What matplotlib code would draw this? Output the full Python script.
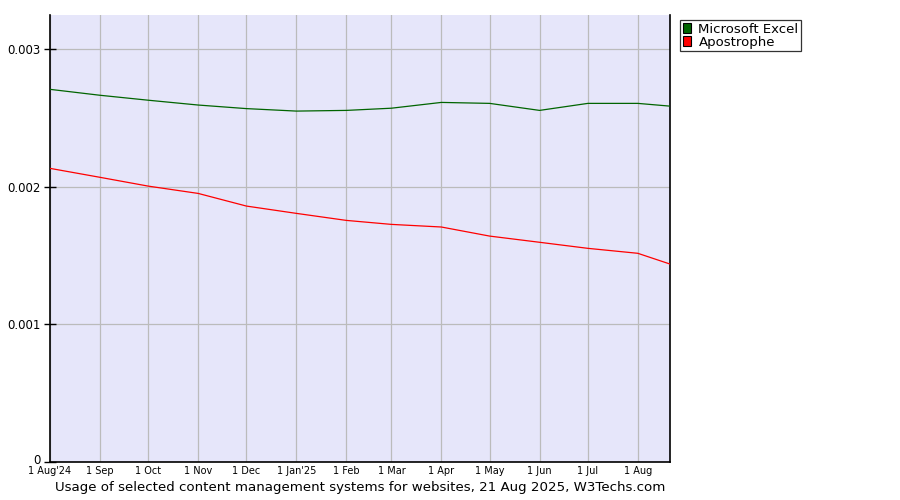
import datetime as dt
import matplotlib
matplotlib.use("Agg")
import matplotlib.pyplot as plt
import matplotlib.dates as mdates
import matplotlib.transforms as mtransforms
from matplotlib.patches import Patch

# monthly samples, plus the last day
dates = [dt.date(2024, 8, 1), dt.date(2024, 9, 1), dt.date(2024, 10, 1), dt.date(2024, 11, 1),
         dt.date(2024, 12, 1), dt.date(2025, 1, 1), dt.date(2025, 2, 1), dt.date(2025, 3, 1),
         dt.date(2025, 4, 1), dt.date(2025, 5, 1), dt.date(2025, 6, 1), dt.date(2025, 7, 1),
         dt.date(2025, 8, 1), dt.date(2025, 8, 21)]

excel = [0.002707, 0.002664, 0.002628, 0.002593, 0.002567, 0.002549, 0.002554,
         0.002570, 0.002612, 0.002605, 0.002554, 0.002605, 0.002605, 0.002585]
apostrophe = [0.002133, 0.002068, 0.002004, 0.001951, 0.001859, 0.001806, 0.001755,
              0.001726, 0.001707, 0.001641, 0.001596, 0.001552, 0.001516, 0.001438]

tick_dates = dates[:13]
tick_labels = ["1 Aug'24", "1 Sep", "1 Oct", "1 Nov", "1 Dec", "1 Jan'25", "1 Feb",
               "1 Mar", "1 Apr", "1 May", "1 Jun", "1 Jul", "1 Aug"]
y_ticks = [0, 0.001, 0.002, 0.003]
y_labels = ["0", "0.001", "0.002", "0.003"]

fig = plt.figure(figsize=(9, 5), dpi=100)
ax = fig.add_axes([50 / 900, 38 / 500, 620 / 900, 447 / 500])
ax.set_facecolor("#e6e6fa")

ax.plot(dates, excel, color="#006400", lw=0.9, zorder=3)
ax.plot(dates, apostrophe, color="#ff0000", lw=0.9, zorder=3)

ax.set_xlim(dates[0], dates[-1])
ax.set_ylim(0, 0.003247)

ax.set_xticks([mdates.date2num(d) for d in tick_dates])
ax.set_xticklabels(tick_labels, fontsize=7, family="Liberation Sans Narrow")
ax.set_yticks(y_ticks)
ax.set_yticklabels(y_labels, fontsize=8.5)
ax.tick_params(axis="x", length=0, pad=3)
ax.tick_params(axis="y", direction="inout", length=8, width=1, pad=3)
# nudge the "0" up a few pixels so it clears the first date label
zero = ax.get_yticklabels()[0]
zero.set_transform(zero.get_transform() + mtransforms.ScaledTranslation(0, 3 / 100, fig.dpi_scale_trans))
ax.grid(True, color="#bbbbbb", lw=0.9, zorder=1)
ax.set_axisbelow(True)

ax.spines["top"].set_visible(False)
for s in ["left", "right", "bottom"]:
    ax.spines[s].set_linewidth(1.2)
    ax.spines[s].set_color("black")

handles = [Patch(facecolor="#006400", edgecolor="black", lw=0.8, label="Microsoft Excel"),
           Patch(facecolor="#ff0000", edgecolor="black", lw=0.8, label="Apostrophe")]
leg = fig.legend(handles=handles, loc="upper left", bbox_to_anchor=(680 / 900, 1 - 20 / 500),
                 fontsize=9.5, frameon=True, fancybox=False, handlelength=0.6, handleheight=0.8,
                 handletextpad=0.6, labelspacing=0.0, borderpad=0.2, borderaxespad=0)
leg.get_frame().set_edgecolor("black")
leg.get_frame().set_linewidth(0.9)

fig.text(360 / 900, 1 - 488 / 500, "Usage of selected content management systems for websites, 21 Aug 2025, W3Techs.com",
         ha="center", va="center", fontsize=9.6)

fig.savefig("out.png", dpi=100)
